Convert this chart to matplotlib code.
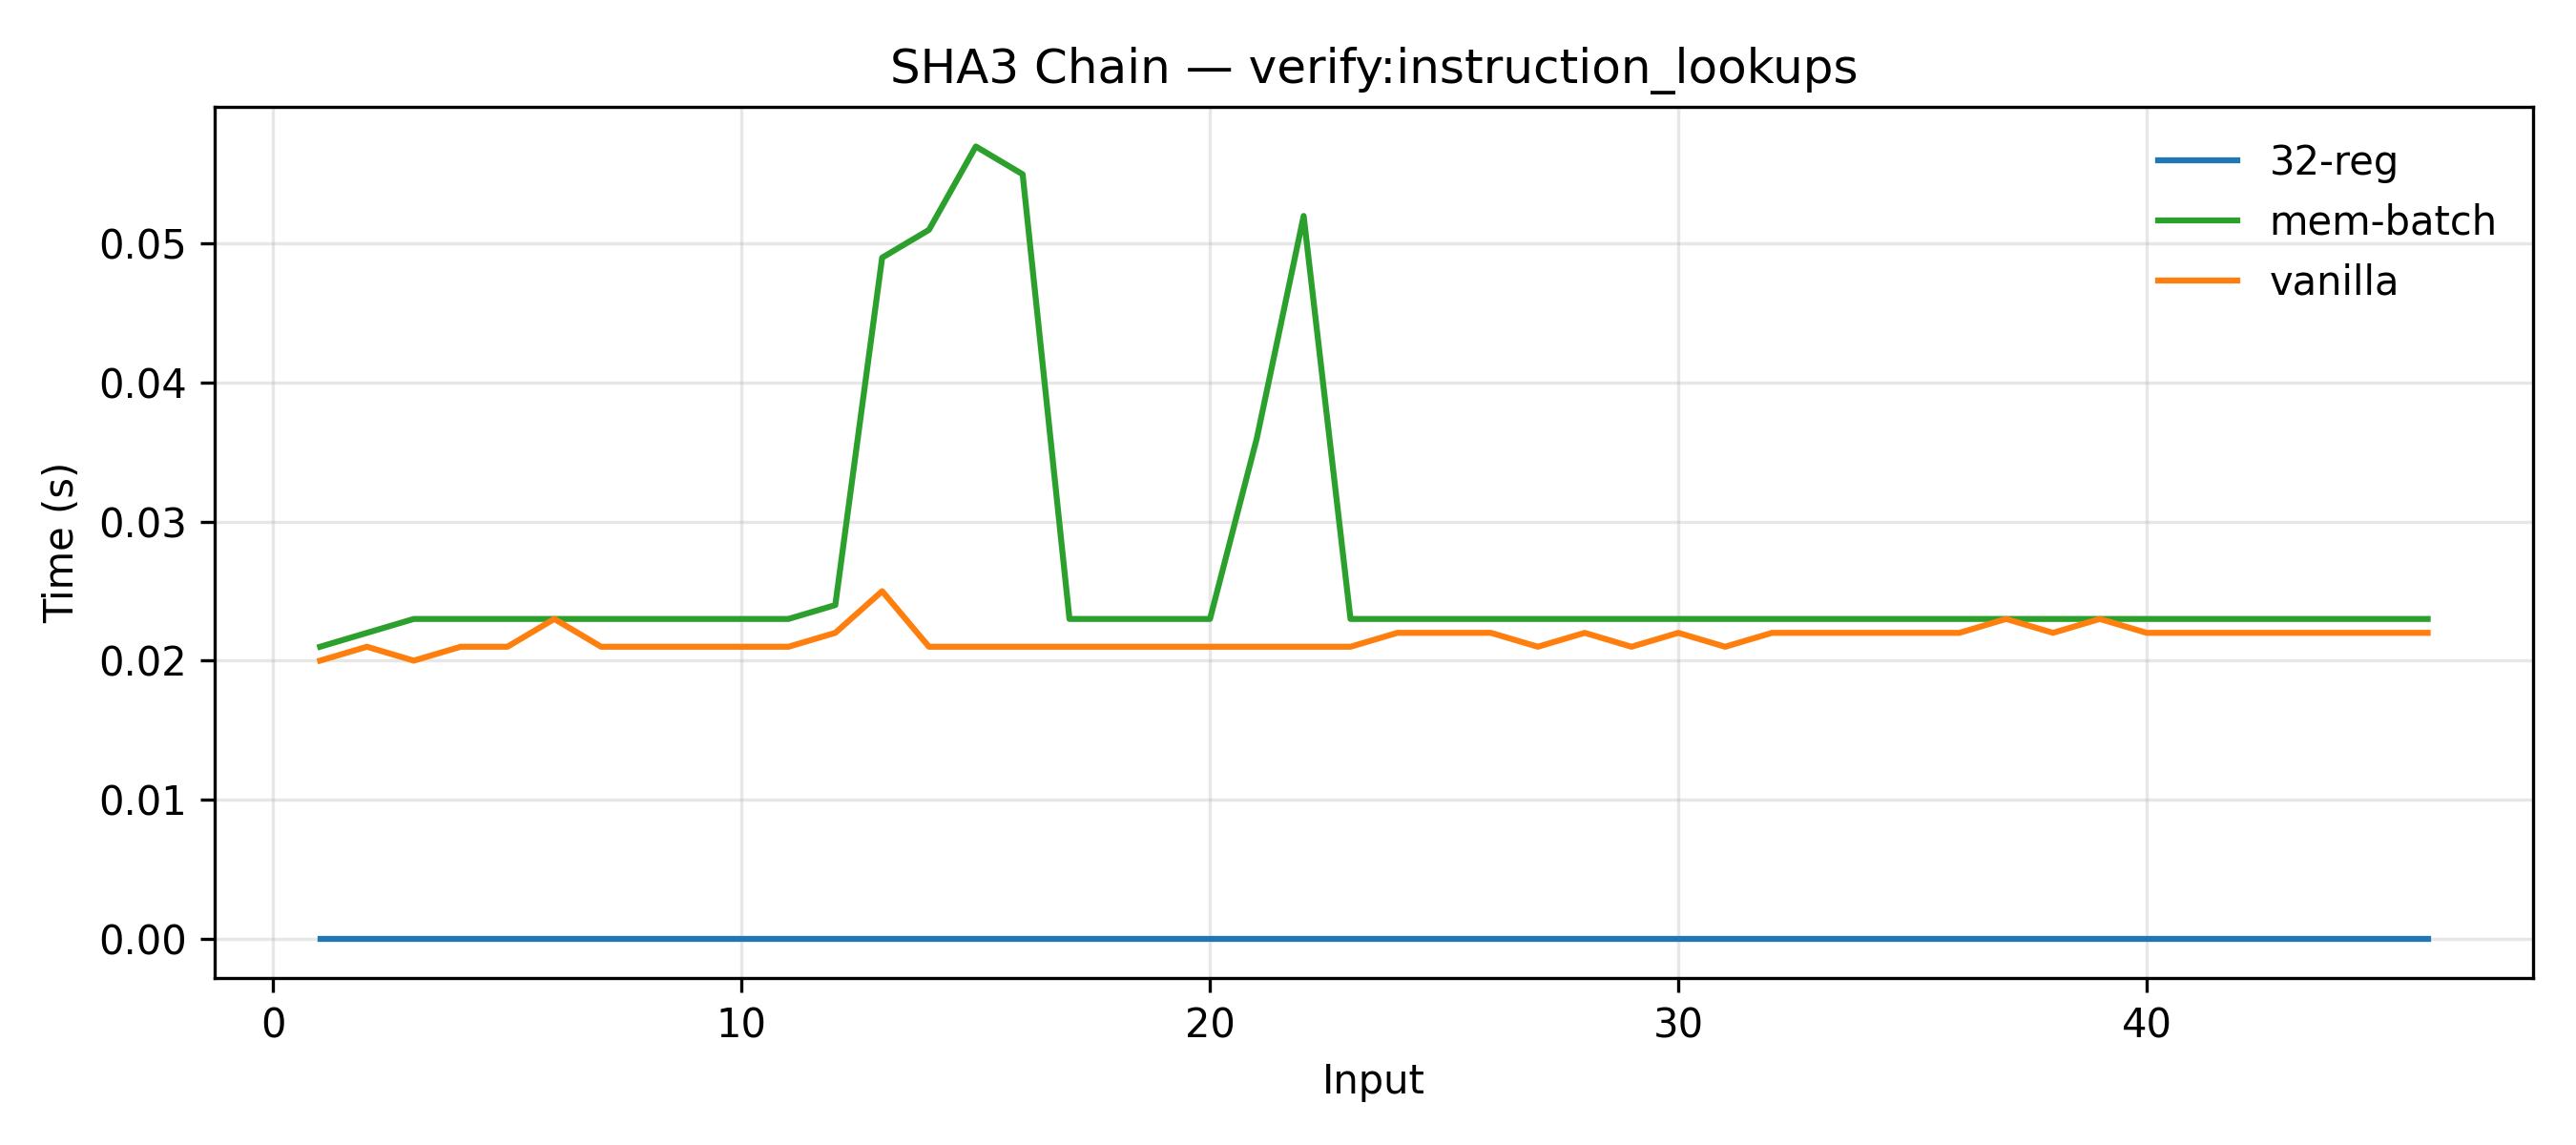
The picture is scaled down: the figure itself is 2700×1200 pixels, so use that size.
import matplotlib
matplotlib.use("Agg")
import matplotlib.pyplot as plt

inputs = list(range(1, 47))
reg32 = [0.0] * 46
mem_batch = [0.021, 0.022, 0.023, 0.023, 0.023, 0.023, 0.023, 0.023, 0.023, 0.023,
             0.023, 0.024, 0.049, 0.051, 0.057, 0.055, 0.023, 0.023, 0.023, 0.023,
             0.036, 0.052] + [0.023] * 24
vanilla = [0.020, 0.021, 0.020, 0.021, 0.021, 0.023, 0.021, 0.021, 0.021, 0.021,
           0.021, 0.022, 0.025, 0.021, 0.021, 0.021, 0.021, 0.021, 0.021, 0.021,
           0.021, 0.021, 0.021, 0.022, 0.022, 0.022, 0.021, 0.022, 0.021, 0.022,
           0.021, 0.022, 0.022, 0.022, 0.022, 0.022, 0.023, 0.022, 0.023, 0.022,
           0.022, 0.022, 0.022, 0.022, 0.022, 0.022]

fig, ax = plt.subplots(figsize=(9, 4))
ax.plot(inputs, reg32, color="#1f77b4", lw=1.5, label="32-reg")
ax.plot(inputs, mem_batch, color="#2ca02c", lw=1.5, label="mem-batch")
ax.plot(inputs, vanilla, color="#ff7f0e", lw=1.5, label="vanilla")
ax.set_title("SHA3 Chain — verify:instruction_lookups")
ax.set_xlabel("Input")
ax.set_ylabel("Time (s)")
ax.grid(True, alpha=0.3)
ax.legend(frameon=False)
fig.tight_layout()
fig.savefig("out.png", dpi=300)
